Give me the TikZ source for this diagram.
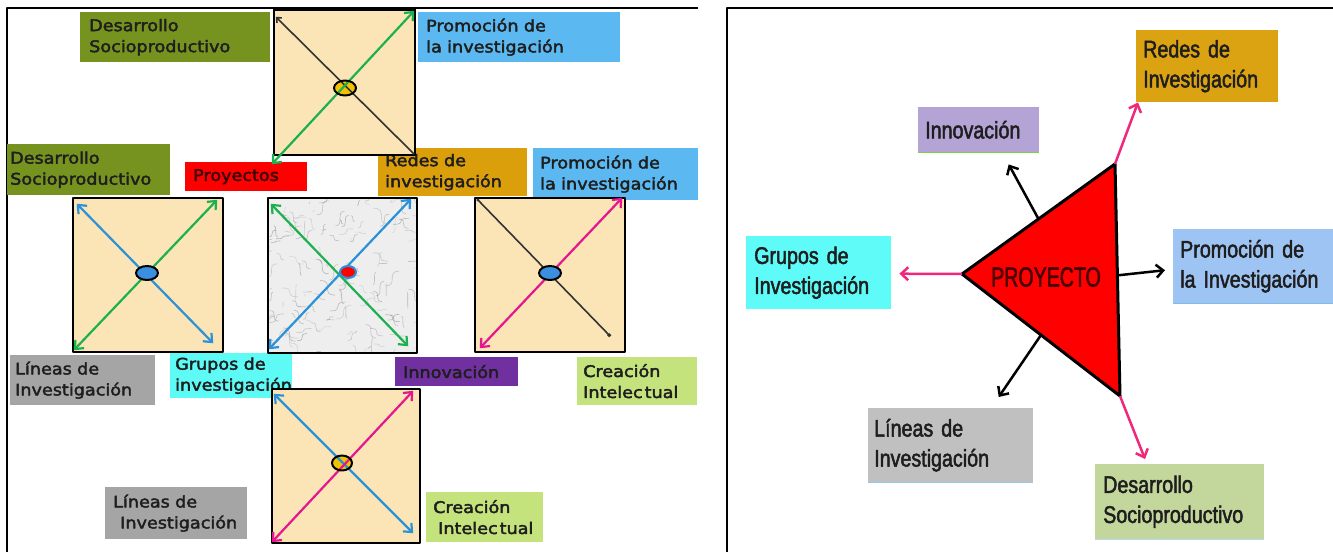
\documentclass[tikz,border=0pt]{standalone}
\usepackage{fontspec}
\setmainfont{DejaVu Sans}
\newfontfamily\leftfont[FakeStretch=1.10,FakeBold=2.5]{DejaVu Sans}
\newfontfamily\condfont[FakeStretch=0.82,FakeBold=2]{Liberation Sans}
\newfontfamily\projfont[FakeStretch=0.70,FakeBold=2]{Liberation Sans}
\usetikzlibrary{arrows.meta,calc}
\definecolor{olv}{HTML}{77931F}
\definecolor{lbl}{HTML}{5CB8F0}
\definecolor{gld}{HTML}{DB9F0C}
\definecolor{gry}{HTML}{A5A5A5}
\definecolor{cyn}{HTML}{5EFAF6}
\definecolor{prp}{HTML}{7030A0}
\definecolor{lgr}{HTML}{C5E37C}
\definecolor{wht}{HTML}{FBE5B6}
\definecolor{agreen}{HTML}{1DB04F}
\definecolor{ablue}{HTML}{2B91D8}
\definecolor{apink}{HTML}{E5178F}
\definecolor{txt}{HTML}{1E1E1E}
\definecolor{prytxt}{HTML}{3A0000}
\definecolor{rgld}{HTML}{DBA212}
\definecolor{rlav}{HTML}{B4A3D5}
\definecolor{rcyn}{HTML}{5FFBF8}
\definecolor{rblu}{HTML}{9EC4F3}
\definecolor{rgry}{HTML}{C0C0C0}
\definecolor{rolv}{HTML}{C3D69B}
\definecolor{rpink}{HTML}{F0287C}
\definecolor{pryt}{HTML}{4A0000}
\definecolor{marble}{HTML}{EEEEEE}
\definecolor{ovyel}{HTML}{F2C200}
\definecolor{ovblu}{HTML}{3A8FE0}
\tikzset{
  lb/.style={rectangle, anchor=north west, inner ysep=0pt, align=left, text=txt,
    font=\leftfont\fontsize{16}{21}\selectfont},
  rb/.style={rectangle, anchor=north west, inner ysep=0pt, align=left, text=txt,
    font=\condfont\fontsize{24}{30}\selectfont},
  sqbox/.style={rectangle, draw=black, line width=2.5pt, fill=wht, inner sep=0pt},
  frame/.style={draw=black, line width=2.2pt},
  garr/.style={draw=agreen, line width=2.2pt, <->},
  barr/.style={draw=ablue, line width=2.2pt, <->},
  parr/.style={draw=apink, line width=2.2pt, <->},
  karr/.style={draw=black!80, line width=1.6pt},
  oval/.style={draw=black, line width=2pt},
  rpa/.style={draw=rpink, line width=2.5pt, ->},
  rka/.style={draw=black, line width=2.5pt, ->},
}
\begin{document}
\begin{tikzpicture}[x=1pt,y=-1pt, line join=round, >={Straight Barb[length=7pt,width=12pt]}]
\useasboundingbox (0,0) rectangle (1333,552);
\fill[white] (0,0) rectangle (1333,552);

% ---------- frames ----------
\draw[frame] (7,552) -- (7,8) -- (698,8);
\draw[frame] (727,552) -- (727,8) -- (1333,8);

% ---------- left panel labels ----------
\node[lb, fill=olv, minimum height=50pt, inner xsep=9pt, text width=172pt] (dsA) at (80,12) {Desarrollo\\Socioproductivo};
\node[lb, fill=lbl, minimum height=50pt, inner xsep=8pt, text width=186pt] (prA) at (418,12) {Promoción de\\la investigación};
\node[lb, fill=olv, minimum height=51pt, inner xsep=3pt, text width=157pt] (dsB) at (7,144) {Desarrollo\\Socioproductivo};
\node[lb, fill=red, minimum height=29pt, inner xsep=8pt, text width=106pt, text=prytxt] (pry) at (185,162) {Proyectos};
\node[lb, fill=gld, minimum height=48pt, inner xsep=7pt, text width=135pt] (rdB) at (378,148) {Redes de\\investigación};
\node[lb, fill=lbl, minimum height=52pt, inner xsep=7pt, text width=151pt] (prB) at (533,148) {Promoción de\\la investigación};
\node[lb, fill=gry, minimum height=50pt, inner xsep=5pt, text width=135pt] (lnA) at (10,355) {Líneas de\\Investigación};
\node[lb, fill=cyn, minimum height=45pt, inner xsep=5pt, text width=112pt] (grA) at (170,353) {Grupos de\\investigación};
\node[lb, fill=prp, minimum height=29pt, inner xsep=8pt, text width=107pt] (inA) at (395,357) {Innovación};
\node[lb, fill=lgr, minimum height=48pt, inner xsep=6pt, text width=108pt] (crA) at (577,357) {Creación\\Intelec\kern2pt tual};
\node[lb, fill=gry, minimum height=52pt, inner xsep=8pt, text width=126pt] (lnB) at (105,487) {Líneas de\\\hspace*{7pt}Investigación};
\node[lb, fill=lgr, minimum height=50pt, inner xsep=7pt, text width=103pt] (crB) at (426,492) {Creación\\\hspace*{5pt}Intelec\kern2pt tual};

% ---------- squares ----------
\node[sqbox, minimum width=141pt, minimum height=145pt] (s1) at (344.5,82.5) {};
\draw[line width=4pt] (s1.north west) -- (s1.north east);
\node[sqbox, minimum width=150pt, minimum height=154pt] (s2) at (148,275) {};
\node[sqbox, minimum width=149pt, minimum height=155pt, fill=marble] (s3) at (342.5,275.5) {};
\node[sqbox, minimum width=150pt, minimum height=154pt] (s4) at (550,275) {};
\node[sqbox, minimum width=148pt, minimum height=154pt] (s5) at (346,466) {};

% marble texture
\begin{scope}
\clip (269.5,199.5) rectangle (415.5,351.5);
\pgfmathsetseed{11}
\foreach \i in {1,...,160}{
  \pgfmathsetmacro\xa{262+160*rnd}
  \pgfmathsetmacro\ya{192+165*rnd}
  \pgfmathsetmacro\dx{-16+32*rnd}
  \pgfmathsetmacro\dy{-16+32*rnd}
  \pgfmathsetmacro\gg{25+35*rnd}
  \draw[black!\gg, line width=0.6pt, opacity=0.45] (\xa,\ya) .. controls ({\xa+\dx},{\ya}) and ({\xa},{\ya+\dy}) .. ({\xa+\dx},{\ya+\dy});
}
\end{scope}

% top square
\fill[ovyel] (345,88) ellipse [x radius=11, y radius=7.5];
\draw[karr, {Straight Barb[length=4pt,width=7pt]}-] ($(s1.north west)+(3,8)$) -- ($(s1.south east)+(-2,-2)$);
\draw[garr] ($(s1.south west)+(-1,8)$) -- ($(s1.north east)+(-2,2)$);
\draw[oval] (345,88) ellipse [x radius=11, y radius=7.5];

% left middle square
\draw[barr] ($(s2.north west)+(5,7)$) -- ($(s2.south east)+(-11,-10)$);
\draw[garr] ($(s2.south west)+(2,-3)$) -- ($(s2.north east)+(-7,3)$);
\draw[oval, fill=ovblu] (147,273) ellipse [x radius=11, y radius=7];

% center square
\draw[garr] ($(s3.north west)+(4,7)$) -- ($(s3.south east)+(-10,-8)$);
\draw[barr] ($(s3.south west)+(2,-5)$) -- ($(s3.north east)+(-7,2)$);
\draw[draw=ablue, line width=2pt, fill=red] (348,272) ellipse [x radius=8, y radius=6];

% right middle square
\draw[karr, {Circle[length=3pt]}-{Square[length=3pt]}] ($(s4.north west)+(3,2)$) -- ($(s4.south east)+(-16,-17)$);
\draw[parr] ($(s4.south west)+(6,-5)$) -- ($(s4.north east)+(-4,1)$);
\draw[oval, fill=ovblu] (550,273) ellipse [x radius=11, y radius=7];

% bottom square
\fill[ovyel] (342,463) ellipse [x radius=10, y radius=7.5];
\draw[barr] ($(s5.north west)+(3,6)$) -- ($(s5.south east)+(-8,-11)$);
\draw[parr] ($(s5.south west)+(1,-2)$) -- ($(s5.north east)+(-8,3)$);
\draw[oval] (342,463) ellipse [x radius=10, y radius=7.5];

% ---------- right panel ----------
\node[rb, fill=rgld, minimum height=72pt, inner xsep=7pt, text width=128pt] (R1) at (1136,30) {Redes de\\Investigación};
\node[rb, fill=rlav, minimum height=45pt, inner xsep=7pt, text width=107pt] (R2) at (918,107) {Innovación};
\node[rb, fill=rcyn, minimum height=73pt, inner xsep=8pt, text width=129pt] (R3) at (746,236) {Grupos de\\Investigación};
\node[rb, fill=rblu, minimum height=74pt, inner xsep=7pt, text width=146pt] (R4) at (1173,229) {Promoción de\\la Investigación};
\node[rb, fill=rgry, minimum height=74pt, inner xsep=6pt, text width=153pt] (R5) at (868,408) {Líneas de\\Investigación};
\node[rb, fill=rolv, minimum height=75pt, inner xsep=8pt, text width=153pt] (R6) at (1095,464) {Desarrollo\\Socioproductivo};
\draw[draw=green!45!olive!70, line width=1.5pt] (R2.south west) -- (R2.south east);
\draw[draw=ablue!60, line width=1.5pt] (R4.south west) -- (R4.south east);
\draw[draw=ablue!50, line width=1.5pt] (R5.south west) -- (R5.south east);
\draw[draw=ablue!35, line width=1.5pt] (R6.south west) -- (R6.south east);

\coordinate (tL) at (962,274);
\coordinate (tT) at (1115,164);
\coordinate (tB) at (1120,396);
\draw[fill=red, draw=black, line width=3pt] (tL) -- (tT) -- (tB) -- cycle;
\node[text=pryt, font=\projfont\fontsize{28}{30}\selectfont, inner sep=0pt] (proy) at (1046,277) {PROYECTO};

\begin{scope}[>={Straight Barb[length=7pt,width=13pt]}]
\draw[rpa] (tT) -- ($(R1.south west)+(2,0)$);
\draw[rpa] (tL) -- ($(R3.east)+(8,1)$);
\draw[rpa] (tB) -- ($(R6.north west)+(50,-5)$);
\draw[rka] ($(tL)!0.5!(tT)$) -- ($(R2.south)+(30,12)$);
\draw[rka] ($(tT)!0.48!(tB)$) -- ($(R4.west)+(-8,4)$);
\draw[rka] ($(tL)!0.5!(tB)$) -- ($(R5.north)+(48,-11)$);
\end{scope}
\end{tikzpicture}
\end{document}
